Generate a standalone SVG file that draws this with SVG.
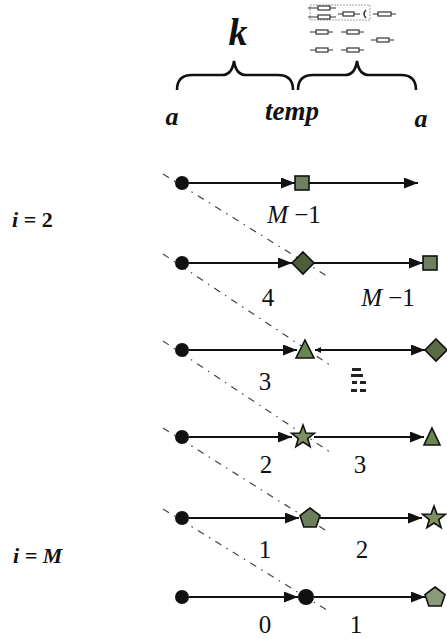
<svg xmlns="http://www.w3.org/2000/svg" width="447" height="639" viewBox="0 0 447 639">
<style>
.t{font-family:"Liberation Serif",serif;fill:#111}
.bi{font-weight:bold;font-style:italic}
.num{font-size:25px}
.ln{stroke:#111;stroke-width:2.2;fill:none}
.dd{stroke:#444;stroke-width:1.2;stroke-dasharray:7 6 1.5 6;fill:none}
.node{stroke:#111;stroke-width:1.6}
.brace{stroke:#111;stroke-width:2.6;fill:none}
.ic{fill:#fff;stroke:#333;stroke-width:1.2}
.icl{stroke:#333;stroke-width:1}
</style>
<defs>
<marker id="ah" viewBox="0 0 14 11" refX="14" refY="5.5" markerWidth="14" markerHeight="11" markerUnits="userSpaceOnUse" orient="auto">
<path d="M0,0 L14,5.5 L0,11 Z" fill="#111"/>
</marker>
</defs>

<!-- header -->
<g id="header">
<text class="t bi" x="238" y="45" font-size="38" text-anchor="middle">k</text>
<path class="brace" d="M177,90 Q177,75 192,75 L222,75 Q232,75 234,61 Q236,75 246,75 L278,75 Q293,75 293,90"/>
<path class="brace" d="M298,90 Q298,75 313,75 L345,75 Q355,75 357,61 Q359,75 369,75 L401,75 Q416,75 416,90"/>
<text class="t bi" x="172" y="125" font-size="26" text-anchor="middle">a</text>
<text class="t bi" x="292" y="120" font-size="27" text-anchor="middle">temp</text>
<text class="t bi" x="421" y="127" font-size="26" text-anchor="middle">a</text>
</g>

<g id="circuit-icon">
<rect x="310" y="5" width="60" height="15" fill="none" stroke="#888" stroke-width="0.8" stroke-dasharray="2 1"/>
<line class="icl" x1="308" y1="8" x2="336" y2="8"/><rect class="ic" x="318" y="6" width="12" height="4"/>
<line class="icl" x1="308" y1="17" x2="336" y2="17"/><rect class="ic" x="318" y="15" width="12" height="4"/>
<line class="icl" x1="338" y1="14" x2="360" y2="14"/><rect class="ic" x="343" y="12" width="11" height="4"/>
<path d="M366,10 Q362,14 366,18" stroke="#333" stroke-width="1.5" fill="none"/>
<line class="icl" x1="373" y1="14" x2="396" y2="14"/><rect class="ic" x="378" y="12" width="13" height="4"/>
<line class="icl" x1="310" y1="32" x2="333" y2="32"/><rect class="ic" x="316" y="30" width="12" height="4"/>
<line class="icl" x1="341" y1="32" x2="364" y2="32"/><rect class="ic" x="347" y="30" width="12" height="4"/>
<line class="icl" x1="371" y1="40" x2="394" y2="40"/><rect class="ic" x="377" y="38" width="12" height="4"/>
<line class="icl" x1="310" y1="50" x2="333" y2="50"/><rect class="ic" x="316" y="48" width="12" height="4"/>
<line class="icl" x1="341" y1="50" x2="364" y2="50"/><rect class="ic" x="347" y="48" width="12" height="4"/>
</g>

<g id="small-icon" fill="#222">
<rect x="352" y="368" width="9" height="3"/><rect x="351" y="374" width="12" height="3"/>
<rect x="352" y="381" width="5" height="3"/><rect x="360" y="381" width="6" height="3"/>
<rect x="351" y="389" width="6" height="3"/><rect x="360" y="389" width="6" height="3"/>
</g>

<!-- side labels -->
<g id="label-i2"><text class="t" x="12" y="227" font-size="22" font-weight="bold"><tspan font-style="italic">i</tspan> = 2</text></g>
<g id="label-iM"><text class="t bi" x="13" y="563" font-size="22"><tspan>i</tspan> = M</text></g>

<!-- connectors -->
<g id="connectors">
<path class="dd" d="M163,174 L330,278"/>
<path class="dd" d="M163,254 L330,365"/>
<path class="dd" d="M163,341 L330,452"/>
<path class="dd" d="M163,428 L330,533"/>
<path class="dd" d="M163,509 L330,612"/>

<line class="ln" x1="189" y1="183" x2="295" y2="183" marker-end="url(#ah)"/>
<line class="ln" x1="309" y1="183" x2="418" y2="183" marker-end="url(#ah)"/>
<line class="ln" x1="189" y1="263" x2="292" y2="263" marker-end="url(#ah)"/>
<line class="ln" x1="314" y1="263" x2="423" y2="263" marker-end="url(#ah)"/>
<line class="ln" x1="189" y1="350" x2="297" y2="350" marker-end="url(#ah)"/>
<line class="ln" x1="315" y1="350" x2="425" y2="350" marker-end="url(#ah)"/>
<path d="M315,350 L321,347 L321,353 Z" fill="#111"/>
<line class="ln" x1="189" y1="437" x2="292" y2="437" marker-end="url(#ah)"/>
<line class="ln" x1="314" y1="437" x2="424" y2="437" marker-end="url(#ah)"/>
<line class="ln" x1="189" y1="518" x2="299" y2="518" marker-end="url(#ah)"/>
<line class="ln" x1="320" y1="518" x2="422" y2="518" marker-end="url(#ah)"/>
<line class="ln" x1="189" y1="597" x2="298" y2="597" stroke-width="1.5" marker-end="url(#ah)"/>
<line class="ln" x1="314" y1="597" x2="425" y2="597" marker-end="url(#ah)"/>
</g>

<!-- row 1 -->
<g id="row1">
<circle cx="182" cy="183" r="7" fill="#111"/>
<rect class="node" x="295" y="176" width="14" height="14" fill="#6f8060"/>
<text class="t num" x="294" y="223" text-anchor="middle"><tspan font-style="italic">M</tspan> −1</text>
</g>
<!-- row 2 -->
<g id="row2">
<circle cx="182" cy="263" r="7" fill="#111"/>
<path class="node" d="M303,252 L314,263 L303,274 L292,263 Z" fill="#4f5e3a"/>
<rect class="node" x="423" y="256" width="14" height="14" fill="#6f8060"/>
<text class="t num" x="268" y="306" text-anchor="middle">4</text>
<text class="t num" x="388" y="306" text-anchor="middle"><tspan font-style="italic">M</tspan> −1</text>
</g>
<!-- row 3 -->
<g id="row3">
<circle cx="182" cy="350" r="7" fill="#111"/>
<path class="node" d="M305,340 L314,358 L296,358 Z" fill="#6a8650"/>
<path class="node" d="M436,339 L447,350 L436,361 L425,350 Z" fill="#5b6b45"/>
<text class="t num" x="265" y="390" text-anchor="middle">3</text>
</g>
<!-- row 4 -->
<g id="row4">
<circle cx="182" cy="437" r="7" fill="#111"/>
<path class="node" d="M303,425 L305.9,433 L314.4,433.3 L307.7,438.6 L310.1,446.7 L303,442 L295.9,446.7 L298.3,438.6 L291.6,433.3 L300.1,433 Z" fill="#7e9060"/>
<path class="node" d="M432,428 L440,445 L424,445 Z" fill="#6a8650"/>
<text class="t num" x="266" y="473" text-anchor="middle">2</text>
<text class="t num" x="360" y="473" text-anchor="middle">3</text>
</g>
<!-- row 5 -->
<g id="row5">
<circle cx="182" cy="518" r="7" fill="#111"/>
<path class="node" d="M310,508 L320,515.5 L316.2,527 L303.8,527 L300,515.5 Z" fill="#6d7f5a"/>
<path class="node" d="M434,506 L436.9,514 L445.4,514.3 L438.7,519.6 L441.1,527.7 L434,523 L426.9,527.7 L429.3,519.6 L422.6,514.3 L431.1,514 Z" fill="#7e9060"/>
<text class="t num" x="265" y="558" text-anchor="middle">1</text>
<text class="t num" x="362" y="558" text-anchor="middle">2</text>
</g>
<!-- row 6 -->
<g id="row6">
<circle cx="182" cy="597" r="7" fill="#111"/>
<circle cx="306" cy="597" r="8" fill="#111"/>
<path class="node" d="M435,587 L445,594.5 L441.2,606 L428.8,606 L425,594.5 Z" fill="#8a9a78"/>
<text class="t num" x="265" y="633" text-anchor="middle">0</text>
<text class="t num" x="356" y="633" text-anchor="middle">1</text>
</g>
</svg>
